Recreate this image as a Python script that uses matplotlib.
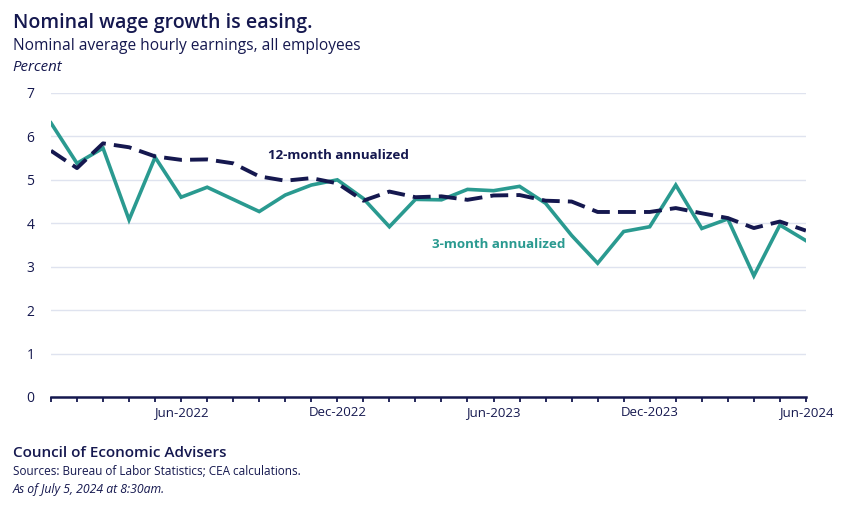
import matplotlib.pyplot as plt

# monthly, Jan-2022 .. Jun-2024
meses = ['Jan-2022', 'Feb-2022', 'Mar-2022', 'Apr-2022', 'May-2022', 'Jun-2022',
         'Jul-2022', 'Aug-2022', 'Sep-2022', 'Oct-2022', 'Nov-2022', 'Dec-2022',
         'Jan-2023', 'Feb-2023', 'Mar-2023', 'Apr-2023', 'May-2023', 'Jun-2023',
         'Jul-2023', 'Aug-2023', 'Sep-2023', 'Oct-2023', 'Nov-2023', 'Dec-2023',
         'Jan-2024', 'Feb-2024', 'Mar-2024', 'Apr-2024', 'May-2024', 'Jun-2024']

tres_meses = [6.31, 5.38, 5.73, 4.08, 5.52, 4.60, 4.83, 4.55, 4.27, 4.65,
              4.88, 5.00, 4.57, 3.92, 4.55, 4.54, 4.78, 4.75, 4.85, 4.46,
              3.72, 3.08, 3.81, 3.92, 4.88, 3.88, 4.10, 2.79, 3.96, 3.60]

doze_meses = [5.67, 5.27, 5.84, 5.75, 5.54, 5.46, 5.47, 5.38, 5.08, 4.98,
              5.04, 4.92, 4.52, 4.73, 4.60, 4.62, 4.54, 4.64, 4.65, 4.52,
              4.50, 4.26, 4.26, 4.26, 4.35, 4.23, 4.12, 3.89, 4.04, 3.83]

rotulos_x = ['Jun-2022', 'Dec-2022', 'Jun-2023', 'Dec-2023', 'Jun-2024']

NAVY = '#15184f'
TEAL = '#2a9a90'
GRADE = '#dfe3ef'

plt.rcParams['font.family'] = ['Open Sans', 'DejaVu Sans']

fig = plt.figure(figsize=(8.55, 5.07), dpi=100)
ax = fig.add_axes([0.0596, 0.217, 0.883, 0.5996])

x = list(range(len(meses)))
ax.plot(x, tres_meses, color=TEAL, lw=2.6, solid_joinstyle='miter', zorder=3)
ax.plot(x, doze_meses, color=NAVY, lw=2.8, dashes=(4.6, 2.1), zorder=4)

ax.set_xlim(0, len(meses) - 1)
ax.set_ylim(0, 7)
ax.set_yticks(range(0, 8))
ax.grid(axis='y', color=GRADE, lw=1)
ax.set_axisbelow(True)

ax.set_xticks(x)
ax.set_xticklabels([m if m in rotulos_x else '' for m in meses])
ax.tick_params(axis='x', direction='out', length=3.8, width=1.3, color=NAVY,
               labelcolor=NAVY, labelsize=9.5, pad=3)
ax.tick_params(axis='y', length=0, labelcolor=NAVY, labelsize=10, pad=12)

for lado in ['top', 'right', 'left']:
    ax.spines[lado].set_visible(False)
ax.spines['bottom'].set_color(NAVY)
ax.spines['bottom'].set_linewidth(1.8)

# rótulos das séries
ax.text(11.05, 5.55, '12-month annualized', color=NAVY, fontsize=9.6,
        fontweight='bold', ha='center', va='center')
ax.text(17.2, 3.5, '3-month annualized', color=TEAL, fontsize=9.6,
        fontweight='bold', ha='center', va='center')

# títulos
fig.text(0.015, 0.955, 'Nominal wage growth is easing.', color=NAVY,
         fontsize=14, fontweight='semibold', va='center')
fig.text(0.015, 0.91, 'Nominal average hourly earnings, all employees',
         color=NAVY, fontsize=11.2, va='center')
fig.text(0.015, 0.866, 'Percent', color=NAVY, fontsize=10.8, style='italic',
         va='center')

# rodapé
fig.text(0.015, 0.107, 'Council of Economic Advisers', color=NAVY,
         fontsize=11, fontweight='semibold', va='center')
fig.text(0.015, 0.071, 'Sources: Bureau of Labor Statistics; CEA calculations.',
         color=NAVY, fontsize=8.5, va='center')
fig.text(0.015, 0.035, 'As of July 5, 2024 at 8:30am.', color=NAVY,
         fontsize=8.8, style='italic', va='center')

fig.savefig('out.png', dpi=100)
